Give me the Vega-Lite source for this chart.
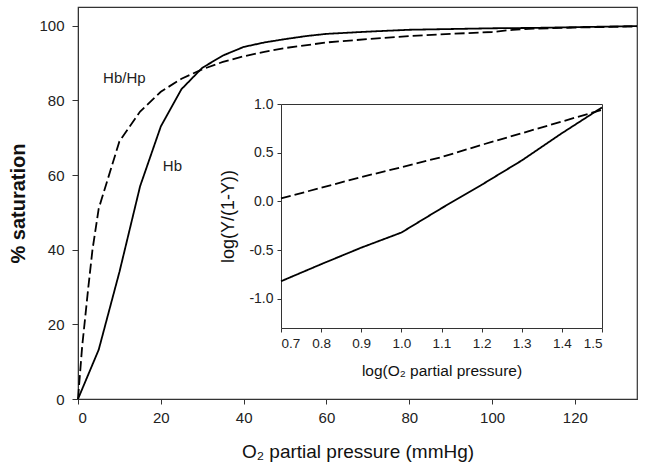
{
  "$schema": "https://vega.github.io/schema/vega-lite/v6.json",
  "width": 559,
  "height": 392,
  "autosize": {"type": "none"},
  "padding": {"left": 78, "top": 7, "right": 8, "bottom": 75},
  "background": "white",
  "config": {
    "view": {"stroke": "#333", "strokeWidth": 1.2},
    "font": "Liberation Sans",
    "axis": {"grid": false, "domainColor": "#333", "tickColor": "#333", "labelColor": "#222", "titleColor": "#111", "labelFont": "Liberation Sans", "titleFont": "Liberation Sans"}
  },
  "datasets": {
    "main": [
      {"p": 0, "s": 0, "series": "Hb"}, {"p": 5, "s": 13.2, "series": "Hb"}, {"p": 10, "s": 34, "series": "Hb"},
      {"p": 15, "s": 57, "series": "Hb"}, {"p": 20, "s": 73, "series": "Hb"}, {"p": 25, "s": 83, "series": "Hb"},
      {"p": 30, "s": 88.7, "series": "Hb"}, {"p": 35, "s": 92, "series": "Hb"}, {"p": 40, "s": 94.3, "series": "Hb"},
      {"p": 45, "s": 95.5, "series": "Hb"}, {"p": 50, "s": 96.4, "series": "Hb"}, {"p": 55, "s": 97.2, "series": "Hb"},
      {"p": 60, "s": 97.8, "series": "Hb"}, {"p": 70, "s": 98.4, "series": "Hb"}, {"p": 80, "s": 98.9, "series": "Hb"},
      {"p": 90, "s": 99.1, "series": "Hb"}, {"p": 100, "s": 99.3, "series": "Hb"}, {"p": 110, "s": 99.4, "series": "Hb"},
      {"p": 120, "s": 99.6, "series": "Hb"}, {"p": 135, "s": 99.9, "series": "Hb"},
      {"p": 0, "s": 0, "series": "Hb/Hp"}, {"p": 1, "s": 14, "series": "Hb/Hp"}, {"p": 2.5, "s": 30, "series": "Hb/Hp"},
      {"p": 3.5, "s": 40, "series": "Hb/Hp"}, {"p": 5, "s": 51, "series": "Hb/Hp"}, {"p": 10, "s": 69, "series": "Hb/Hp"},
      {"p": 15, "s": 77, "series": "Hb/Hp"}, {"p": 20, "s": 82.3, "series": "Hb/Hp"}, {"p": 25, "s": 85.8, "series": "Hb/Hp"},
      {"p": 30, "s": 88.3, "series": "Hb/Hp"}, {"p": 35, "s": 90.3, "series": "Hb/Hp"}, {"p": 40, "s": 91.8, "series": "Hb/Hp"},
      {"p": 45, "s": 93, "series": "Hb/Hp"}, {"p": 50, "s": 94, "series": "Hb/Hp"}, {"p": 60, "s": 95.5, "series": "Hb/Hp"},
      {"p": 70, "s": 96.4, "series": "Hb/Hp"}, {"p": 80, "s": 97.2, "series": "Hb/Hp"}, {"p": 90, "s": 97.8, "series": "Hb/Hp"},
      {"p": 100, "s": 98.3, "series": "Hb/Hp"}, {"p": 105, "s": 98.9, "series": "Hb/Hp"}, {"p": 110, "s": 99.2, "series": "Hb/Hp"},
      {"p": 120, "s": 99.5, "series": "Hb/Hp"}, {"p": 135, "s": 99.8, "series": "Hb/Hp"}
    ],
    "inset": [
      {"lp": 0.7, "ly": -0.82, "series": "Hb"}, {"lp": 0.8, "ly": -0.645, "series": "Hb"}, {"lp": 0.9, "ly": -0.475, "series": "Hb"},
      {"lp": 1.0, "ly": -0.32, "series": "Hb"}, {"lp": 1.1, "ly": -0.07, "series": "Hb"}, {"lp": 1.2, "ly": 0.17, "series": "Hb"},
      {"lp": 1.3, "ly": 0.42, "series": "Hb"}, {"lp": 1.4, "ly": 0.7, "series": "Hb"}, {"lp": 1.5, "ly": 0.965, "series": "Hb"},
      {"lp": 0.7, "ly": 0.03, "series": "Hb/Hp"}, {"lp": 0.8, "ly": 0.14, "series": "Hb/Hp"}, {"lp": 0.9, "ly": 0.25, "series": "Hb/Hp"},
      {"lp": 1.0, "ly": 0.35, "series": "Hb/Hp"}, {"lp": 1.1, "ly": 0.455, "series": "Hb/Hp"}, {"lp": 1.2, "ly": 0.58, "series": "Hb/Hp"},
      {"lp": 1.3, "ly": 0.7, "series": "Hb/Hp"}, {"lp": 1.4, "ly": 0.82, "series": "Hb/Hp"}, {"lp": 1.5, "ly": 0.94, "series": "Hb/Hp"}
    ],
    "labels": [
      {"p": 11.2, "s": 85.9, "label": "Hb/Hp"},
      {"p": 22.8, "s": 62.4, "label": "Hb"}
    ]
  },
  "resolve": {"scale": {"x": "independent", "y": "independent"}, "axis": {"x": "independent", "y": "independent"}},
  "layer": [
    {
      "layer": [
        {
          "data": {"name": "main"},
          "mark": {"type": "line", "color": "black", "strokeWidth": 1.8},
          "encoding": {
            "x": {"field": "p", "type": "quantitative", "scale": {"domain": [0, 135], "nice": false, "zero": false},
              "axis": {"orient": "bottom", "values": [0, 20, 40, 60, 80, 100, 120], "title": "O₂ partial pressure (mmHg)",
                "labelFontSize": 15, "titleFontSize": 19, "titleFontWeight": "normal", "tickSize": 5, "labelPadding": 6, "titlePadding": 17}},
            "y": {"field": "s", "type": "quantitative", "scale": {"domain": [0, 105], "nice": false},
              "axis": {"orient": "left", "values": [0, 20, 40, 60, 80, 100], "title": "% saturation",
                "labelFontSize": 15, "titleFontSize": 20, "titleFontWeight": "bold", "tickSize": 6, "labelPadding": 8, "titlePadding": 10}},
            "strokeDash": {"field": "series", "type": "nominal", "scale": {"domain": ["Hb", "Hb/Hp"], "range": [[1, 0], [10, 4]]}, "legend": null}
          }
        },
        {
          "data": {"name": "labels"},
          "mark": {"type": "text", "fontSize": 15, "color": "#222", "baseline": "middle", "align": "center", "font": "Liberation Sans"},
          "encoding": {
            "x": {"field": "p", "type": "quantitative"},
            "y": {"field": "s", "type": "quantitative"},
            "text": {"field": "label"}
          }
        }
      ]
    },
    {
      "data": {"name": "inset"},
      "resolve": {"axis": {"x": "independent", "y": "independent"}},
      "layer": [
        {
          "mark": {"type": "line", "color": "black", "strokeWidth": 1.8},
          "encoding": {
            "x": {"field": "lp", "type": "quantitative", "scale": {"domain": [0.7, 1.5], "range": [203, 524], "nice": false, "zero": false},
              "axis": {"orient": "bottom", "offset": -71, "values": [0.7, 0.8, 0.9, 1.0, 1.1, 1.2, 1.3, 1.4, 1.5], "format": ".1f",
                "title": "log(O₂ partial pressure)", "labelFontSize": 13.5, "titleFontSize": 15.5, "titleFontWeight": "normal",
                "tickSize": 4, "labelPadding": 4, "titlePadding": 14}},
            "y": {"field": "ly", "type": "quantitative", "scale": {"domain": [-1.3, 1.0], "range": [321, 97], "nice": false, "zero": false},
              "axis": {"orient": "left", "offset": -203, "values": [-1.0, -0.5, 0.0, 0.5, 1.0], "format": ".1f",
                "labelExpr": "replace(datum.label, '−', '-')",
                "title": "log(Y/(1-Y))", "labelFontSize": 14, "titleFontSize": 18, "titleFontWeight": "normal",
                "tickSize": 4, "labelPadding": 4, "titlePadding": 11}},
            "strokeDash": {"field": "series", "type": "nominal", "scale": {"domain": ["Hb", "Hb/Hp"], "range": [[1, 0], [9, 5]]}, "legend": null}
          }
        },
        {
          "mark": {"type": "line", "opacity": 0},
          "encoding": {
            "x": {"field": "lp", "type": "quantitative",
              "axis": {"orient": "top", "offset": -97, "labels": false, "ticks": false, "title": null}},
            "y": {"field": "ly", "type": "quantitative",
              "axis": {"orient": "right", "offset": -35, "labels": false, "ticks": false, "title": null}},
            "detail": {"field": "series"}
          }
        }
      ]
    }
  ]
}
